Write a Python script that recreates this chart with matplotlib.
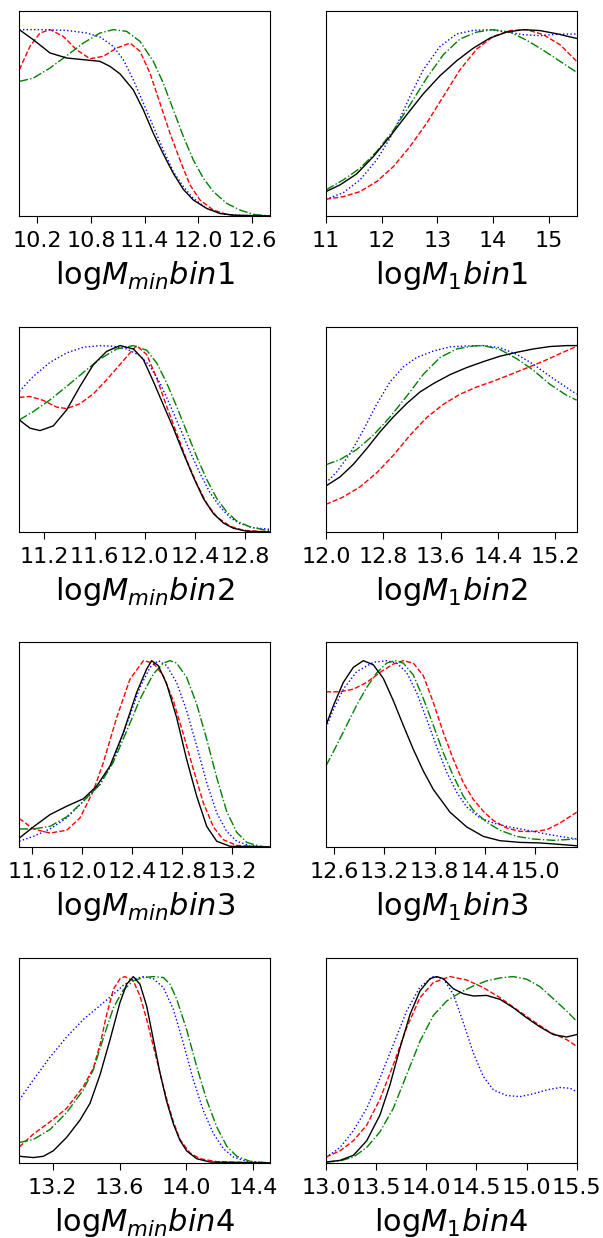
import numpy as np
import matplotlib
matplotlib.use("Agg")
import matplotlib.pyplot as plt

# marginal posteriors, (x, normalised P) pairs

# ---- logMmin bin1
mmin1_black = [(10.0, 1.0), (10.156, 0.946), (10.343, 0.875), (10.529, 0.848), (10.715, 0.839), (10.901, 0.830),
               (11.013, 0.803), (11.124, 0.763), (11.273, 0.677), (11.385, 0.570), (11.497, 0.444), (11.608, 0.333),
               (11.720, 0.229), (11.832, 0.143), (11.943, 0.086), (12.092, 0.041), (12.241, 0.014), (12.390, 0.005),
               (12.8, 0.0)]
mmin1_red = [(10.0, 0.785), (10.119, 0.910), (10.231, 0.982), (10.343, 1.0), (10.491, 0.964), (10.640, 0.892),
             (10.789, 0.844), (10.938, 0.857), (11.087, 0.901), (11.236, 0.928), (11.348, 0.884), (11.459, 0.767),
             (11.571, 0.606), (11.683, 0.444), (11.794, 0.301), (11.906, 0.167), (12.018, 0.086), (12.167, 0.032),
             (12.316, 0.009), (12.465, 0.0), (12.8, 0.0)]
mmin1_blue = [(10.0, 1.0), (10.268, 1.0), (10.529, 0.996), (10.752, 0.982), (10.901, 0.961), (11.050, 0.910),
              (11.162, 0.839), (11.273, 0.731), (11.385, 0.606), (11.497, 0.480), (11.608, 0.355), (11.720, 0.238),
              (11.832, 0.158), (11.943, 0.095), (12.092, 0.041), (12.241, 0.014), (12.390, 0.004), (12.8, 0.0)]
mmin1_green = [(10.0, 0.722), (10.156, 0.740), (10.343, 0.794), (10.529, 0.860), (10.715, 0.928), (10.901, 0.982),
               (11.050, 1.0), (11.199, 0.991), (11.348, 0.937), (11.497, 0.830), (11.608, 0.713), (11.720, 0.570),
               (11.832, 0.427), (11.943, 0.301), (12.055, 0.203), (12.167, 0.131), (12.316, 0.068), (12.465, 0.032),
               (12.614, 0.009), (12.8, 0.0)]

# ---- logM1 bin1
m1_1_black = [(11.0, 0.131), (11.251, 0.167), (11.551, 0.226), (11.850, 0.319), (12.149, 0.427), (12.448, 0.543),
              (12.747, 0.656), (13.047, 0.753), (13.346, 0.833), (13.645, 0.901), (13.944, 0.955), (14.244, 0.987),
              (14.543, 1.0), (14.842, 0.995), (15.141, 0.978), (15.5, 0.953)]
m1_1_red = [(11.0, 0.090), (11.311, 0.104), (11.610, 0.131), (11.910, 0.185), (12.209, 0.265), (12.508, 0.373),
            (12.807, 0.498), (13.107, 0.642), (13.406, 0.785), (13.705, 0.896), (14.004, 0.964), (14.303, 0.995),
            (14.603, 1.0), (14.902, 0.973), (15.201, 0.919), (15.5, 0.830)]
m1_1_blue = [(11.0, 0.090), (11.311, 0.125), (11.610, 0.194), (11.910, 0.301), (12.149, 0.418), (12.329, 0.525),
             (12.508, 0.642), (12.747, 0.785), (13.047, 0.910), (13.346, 0.977), (13.645, 0.996), (13.944, 1.0),
             (14.244, 0.987), (14.543, 0.973), (14.842, 0.968), (15.141, 0.975), (15.5, 0.977)]
m1_1_green = [(11.0, 0.140), (11.311, 0.194), (11.610, 0.256), (11.910, 0.346), (12.209, 0.459), (12.508, 0.597),
              (12.807, 0.740), (13.107, 0.866), (13.406, 0.950), (13.705, 0.987), (14.004, 1.0), (14.303, 0.987),
              (14.603, 0.943), (14.902, 0.889), (15.201, 0.830), (15.5, 0.771)]

# ---- logMmin bin2
mmin2_black = [(11.0, 0.601), (11.085, 0.557), (11.165, 0.544), (11.271, 0.569), (11.378, 0.655), (11.484, 0.781),
               (11.591, 0.898), (11.697, 0.969), (11.803, 1.0), (11.910, 0.982), (11.990, 0.925), (12.069, 0.808),
               (12.149, 0.682), (12.229, 0.557), (12.309, 0.422), (12.388, 0.296), (12.468, 0.180), (12.548, 0.099),
               (12.628, 0.048), (12.707, 0.020), (12.814, 0.004), (13.0, 0.0)]
mmin2_red = [(11.0, 0.722), (11.085, 0.727), (11.191, 0.706), (11.298, 0.670), (11.378, 0.662), (11.484, 0.688),
             (11.591, 0.741), (11.697, 0.817), (11.803, 0.898), (11.883, 0.961), (11.936, 1.0), (12.016, 0.952),
             (12.096, 0.826), (12.176, 0.673), (12.255, 0.530), (12.335, 0.386), (12.415, 0.260), (12.495, 0.153),
             (12.575, 0.081), (12.681, 0.031), (12.787, 0.009), (13.0, 0.0)]
mmin2_blue = [(11.0, 0.754), (11.112, 0.835), (11.245, 0.910), (11.378, 0.961), (11.511, 0.991), (11.644, 1.0),
              (11.750, 0.996), (11.856, 0.982), (11.963, 0.946), (12.043, 0.889), (12.122, 0.799), (12.202, 0.682),
              (12.282, 0.557), (12.362, 0.431), (12.442, 0.314), (12.522, 0.210), (12.601, 0.135), (12.681, 0.077),
              (12.761, 0.045), (12.867, 0.023), (13.0, 0.014)]
mmin2_green = [(11.0, 0.601), (11.112, 0.646), (11.245, 0.709), (11.378, 0.781), (11.511, 0.856), (11.644, 0.928),
               (11.777, 0.982), (11.910, 1.0), (12.016, 0.975), (12.096, 0.907), (12.176, 0.799), (12.255, 0.673),
               (12.335, 0.539), (12.415, 0.404), (12.495, 0.282), (12.575, 0.180), (12.654, 0.108), (12.734, 0.059),
               (12.840, 0.027), (13.0, 0.005)]

# ---- logM1 bin2
m1_2_black = [(12.0, 0.247), (12.195, 0.295), (12.382, 0.363), (12.568, 0.447), (12.754, 0.537), (12.940, 0.617),
              (13.126, 0.689), (13.312, 0.751), (13.499, 0.796), (13.731, 0.844), (13.964, 0.882), (14.197, 0.914),
              (14.429, 0.943), (14.662, 0.964), (14.895, 0.982), (15.127, 0.995), (15.360, 1.0), (15.5, 1.0)]
m1_2_red = [(12.0, 0.148), (12.242, 0.188), (12.475, 0.242), (12.707, 0.317), (12.940, 0.411), (13.173, 0.519),
            (13.406, 0.614), (13.638, 0.685), (13.871, 0.739), (14.104, 0.778), (14.336, 0.809), (14.569, 0.844),
            (14.802, 0.880), (15.034, 0.916), (15.267, 0.957), (15.5, 0.996)]
m1_2_blue = [(12.0, 0.263), (12.149, 0.322), (12.335, 0.420), (12.521, 0.546), (12.707, 0.685), (12.894, 0.805),
             (13.080, 0.886), (13.266, 0.936), (13.499, 0.971), (13.731, 0.993), (13.964, 0.998), (14.197, 1.0),
             (14.429, 0.989), (14.662, 0.953), (14.895, 0.900), (15.127, 0.835), (15.360, 0.775), (15.5, 0.739)]
m1_2_green = [(12.0, 0.361), (12.195, 0.388), (12.428, 0.442), (12.661, 0.519), (12.894, 0.617), (13.126, 0.728),
              (13.359, 0.846), (13.592, 0.936), (13.824, 0.982), (14.057, 0.998), (14.197, 1.0), (14.429, 0.979),
              (14.662, 0.930), (14.895, 0.868), (15.127, 0.792), (15.360, 0.733), (15.5, 0.707)]

# ---- logMmin bin3
mmin3_black = [(11.5, 0.048), (11.612, 0.108), (11.745, 0.174), (11.878, 0.219), (12.011, 0.259), (12.117, 0.327),
               (12.223, 0.434), (12.330, 0.614), (12.436, 0.829), (12.516, 0.955), (12.556, 1.0), (12.609, 0.973),
               (12.676, 0.874), (12.755, 0.695), (12.835, 0.470), (12.915, 0.273), (12.995, 0.111), (13.075, 0.031),
               (13.181, 0.004), (13.5, 0.0)]
mmin3_red = [(11.5, 0.153), (11.612, 0.097), (11.745, 0.075), (11.878, 0.090), (11.984, 0.156), (12.090, 0.300),
             (12.170, 0.452), (12.277, 0.695), (12.383, 0.901), (12.490, 1.0), (12.569, 0.987), (12.649, 0.919),
             (12.729, 0.784), (12.809, 0.605), (12.889, 0.416), (12.968, 0.237), (13.048, 0.108), (13.128, 0.039),
             (13.234, 0.009), (13.5, 0.0)]
mmin3_blue = [(11.5, 0.031), (11.612, 0.057), (11.745, 0.097), (11.878, 0.156), (12.011, 0.246), (12.144, 0.336),
              (12.250, 0.462), (12.357, 0.659), (12.463, 0.857), (12.543, 0.964), (12.609, 1.0), (12.676, 0.973),
              (12.755, 0.883), (12.835, 0.731), (12.915, 0.542), (12.995, 0.345), (13.075, 0.183), (13.154, 0.084),
              (13.234, 0.031), (13.340, 0.007), (13.5, 0.0)]
mmin3_green = [(11.5, 0.097), (11.612, 0.097), (11.745, 0.111), (11.878, 0.162), (12.011, 0.246), (12.144, 0.336),
               (12.250, 0.456), (12.357, 0.623), (12.463, 0.794), (12.569, 0.928), (12.649, 0.987), (12.702, 1.0),
               (12.755, 0.987), (12.835, 0.910), (12.915, 0.767), (12.995, 0.578), (13.075, 0.372), (13.154, 0.192),
               (13.234, 0.079), (13.314, 0.025), (13.420, 0.004), (13.5, 0.0)]

# ---- logM1 bin3
m1_3_black = [(12.5, 0.653), (12.588, 0.758), (12.707, 0.883), (12.827, 0.964), (12.947, 1.0), (13.066, 0.978),
              (13.186, 0.905), (13.306, 0.785), (13.425, 0.653), (13.545, 0.524), (13.665, 0.408), (13.784, 0.309),
              (13.984, 0.187), (14.183, 0.108), (14.383, 0.057), (14.582, 0.034), (14.822, 0.025), (15.061, 0.022),
              (15.300, 0.014), (15.5, 0.007)]
m1_3_red = [(12.5, 0.833), (12.668, 0.833), (12.827, 0.847), (12.987, 0.883), (13.146, 0.937), (13.306, 0.982),
            (13.425, 1.0), (13.545, 0.987), (13.665, 0.919), (13.784, 0.776), (13.904, 0.614), (14.024, 0.470),
            (14.143, 0.345), (14.263, 0.255), (14.383, 0.192), (14.503, 0.142), (14.662, 0.102), (14.822, 0.084),
            (14.981, 0.083), (15.141, 0.093), (15.300, 0.129), (15.5, 0.187)]
m1_3_blue = [(12.5, 0.641), (12.588, 0.736), (12.707, 0.847), (12.867, 0.941), (13.066, 0.991), (13.226, 1.0),
             (13.346, 0.987), (13.465, 0.937), (13.585, 0.829), (13.705, 0.686), (13.824, 0.539), (13.944, 0.402),
             (14.064, 0.294), (14.183, 0.215), (14.343, 0.156), (14.503, 0.129), (14.662, 0.111), (14.822, 0.097),
             (14.981, 0.084), (15.181, 0.066), (15.5, 0.043)]
m1_3_green = [(12.5, 0.435), (12.628, 0.546), (12.747, 0.653), (12.867, 0.761), (12.987, 0.856), (13.106, 0.934),
              (13.226, 0.987), (13.326, 1.0), (13.425, 0.987), (13.545, 0.923), (13.665, 0.797), (13.784, 0.653),
              (13.904, 0.506), (14.024, 0.381), (14.143, 0.273), (14.263, 0.197), (14.423, 0.133), (14.582, 0.090),
              (14.782, 0.057), (14.981, 0.043), (15.221, 0.036), (15.5, 0.043)]

# ---- logMmin bin4
mmin4_black = [(13.0, 0.036), (13.084, 0.029), (13.144, 0.036), (13.203, 0.065), (13.283, 0.137), (13.363, 0.230),
               (13.423, 0.320), (13.483, 0.473), (13.543, 0.662), (13.602, 0.860), (13.642, 0.959), (13.682, 1.0),
               (13.722, 0.959), (13.762, 0.842), (13.802, 0.662), (13.842, 0.482), (13.882, 0.329), (13.922, 0.209),
               (13.961, 0.122), (14.001, 0.065), (14.061, 0.023), (14.141, 0.005), (14.5, 0.0)]
mmin4_red = [(13.0, 0.086), (13.084, 0.155), (13.184, 0.221), (13.283, 0.293), (13.383, 0.410), (13.443, 0.509),
             (13.483, 0.635), (13.523, 0.797), (13.563, 0.932), (13.603, 0.989), (13.632, 1.0), (13.682, 0.977),
             (13.722, 0.896), (13.762, 0.770), (13.802, 0.626), (13.842, 0.482), (13.882, 0.342), (13.922, 0.221),
             (13.961, 0.126), (14.021, 0.054), (14.081, 0.023), (14.181, 0.007), (14.5, 0.0)]
mmin4_blue = [(13.0, 0.338), (13.084, 0.446), (13.184, 0.568), (13.283, 0.676), (13.383, 0.770), (13.483, 0.845),
              (13.563, 0.905), (13.622, 0.953), (13.682, 0.986), (13.742, 1.0), (13.802, 0.989), (13.862, 0.941),
              (13.922, 0.824), (13.981, 0.644), (14.041, 0.446), (14.101, 0.281), (14.161, 0.158), (14.221, 0.077),
              (14.281, 0.032), (14.360, 0.009), (14.5, 0.0)]
mmin4_green = [(13.0, 0.110), (13.084, 0.126), (13.184, 0.180), (13.283, 0.270), (13.383, 0.392), (13.443, 0.500),
               (13.503, 0.671), (13.563, 0.833), (13.622, 0.928), (13.682, 0.977), (13.742, 0.995), (13.802, 1.0),
               (13.862, 0.995), (13.902, 0.959), (13.942, 0.878), (14.001, 0.716), (14.061, 0.518), (14.121, 0.338),
               (14.181, 0.194), (14.241, 0.090), (14.301, 0.036), (14.380, 0.009), (14.5, 0.0)]

# ---- logM1 bin4
m1_4_black = [(13.0, 0.005), (13.140, 0.014), (13.273, 0.041), (13.406, 0.119), (13.538, 0.257), (13.638, 0.419),
              (13.738, 0.617), (13.838, 0.797), (13.937, 0.923), (14.037, 0.989), (14.104, 1.0), (14.170, 0.989),
              (14.270, 0.935), (14.370, 0.908), (14.469, 0.896), (14.602, 0.899), (14.735, 0.878), (14.868, 0.833),
              (15.001, 0.779), (15.134, 0.730), (15.267, 0.689), (15.400, 0.676), (15.5, 0.689)]
m1_4_red = [(13.0, 0.032), (13.140, 0.065), (13.273, 0.119), (13.406, 0.203), (13.538, 0.342), (13.671, 0.527),
            (13.804, 0.725), (13.937, 0.887), (14.070, 0.968), (14.236, 1.0), (14.403, 0.982), (14.569, 0.941),
            (14.735, 0.887), (14.901, 0.824), (15.068, 0.761), (15.234, 0.701), (15.400, 0.662), (15.5, 0.626)]
m1_4_blue = [(13.0, 0.029), (13.140, 0.083), (13.273, 0.173), (13.406, 0.293), (13.538, 0.455), (13.671, 0.635),
             (13.804, 0.815), (13.937, 0.944), (14.070, 1.0), (14.170, 0.989), (14.270, 0.905), (14.370, 0.752),
             (14.469, 0.590), (14.569, 0.464), (14.669, 0.392), (14.802, 0.362), (14.935, 0.356), (15.068, 0.371),
             (15.201, 0.392), (15.334, 0.405), (15.433, 0.401), (15.5, 0.383)]
m1_4_green = [(13.0, 0.005), (13.140, 0.011), (13.273, 0.032), (13.406, 0.083), (13.538, 0.167), (13.671, 0.293),
              (13.804, 0.473), (13.937, 0.653), (14.070, 0.791), (14.203, 0.869), (14.336, 0.914), (14.469, 0.950),
              (14.602, 0.977), (14.735, 0.993), (14.868, 1.0), (15.001, 0.986), (15.134, 0.946), (15.267, 0.881),
              (15.400, 0.815), (15.5, 0.761)]

labels = ['log$M_{min}bin1$', 'log$M_1bin1$',
          'log$M_{min}bin2$', 'log$M_1bin2$',
          'log$M_{min}bin3$', 'log$M_1bin3$',
          'log$M_{min}bin4$', 'log$M_1bin4$']
xlims = [(10.0, 12.8), (11.0, 15.5), (11.0, 13.0), (12.0, 15.5),
         (11.5, 13.5), (12.5, 15.5), (13.0, 14.5), (13.0, 15.5)]
xticks = [[10.2, 10.8, 11.4, 12.0, 12.6], [11, 12, 13, 14, 15],
          [11.2, 11.6, 12.0, 12.4, 12.8], [12.0, 12.8, 13.6, 14.4, 15.2],
          [11.6, 12.0, 12.4, 12.8, 13.2], [12.6, 13.2, 13.8, 14.4, 15.0],
          [13.2, 13.6, 14.0, 14.4], [13.0, 13.5, 14.0, 14.5, 15.0, 15.5]]
panels = [
    (mmin1_black, mmin1_red, mmin1_blue, mmin1_green),
    (m1_1_black, m1_1_red, m1_1_blue, m1_1_green),
    (mmin2_black, mmin2_red, mmin2_blue, mmin2_green),
    (m1_2_black, m1_2_red, m1_2_blue, m1_2_green),
    (mmin3_black, mmin3_red, mmin3_blue, mmin3_green),
    (m1_3_black, m1_3_red, m1_3_blue, m1_3_green),
    (mmin4_black, mmin4_red, mmin4_blue, mmin4_green),
    (m1_4_black, m1_4_red, m1_4_blue, m1_4_green),
]

fig = plt.figure(figsize=(6.03, 12.38), dpi=100)

lefts = [0.032, 0.5406]
bottoms = [0.8255, 0.5703, 0.3158, 0.0606]
w, h = 0.4158, 0.1656

for i in range(8):
    row, col = i // 2, i % 2
    ax = fig.add_axes([lefts[col], bottoms[row], w, h])
    blk, red, blu, grn = panels[i]
    # black drawn last so it sits on top
    for curve, c, ls in [(red, "r", "--"), (blu, "b", ":"), (grn, "g", "-."), (blk, "k", "-")]:
        arr = np.array(curve)
        ax.plot(arr[:, 0], arr[:, 1], color=c, ls=ls, lw=1)
    ax.set_xlim(*xlims[i])
    ax.set_ylim(0, 1.1)
    ax.set_yticks([])
    ax.set_xticks(xticks[i])
    ax.tick_params(axis="x", labelsize=16, length=5, pad=5.5)
    ax.set_xlabel(labels[i], fontsize=22, labelpad=6)

fig.savefig("out.png", dpi=100)
